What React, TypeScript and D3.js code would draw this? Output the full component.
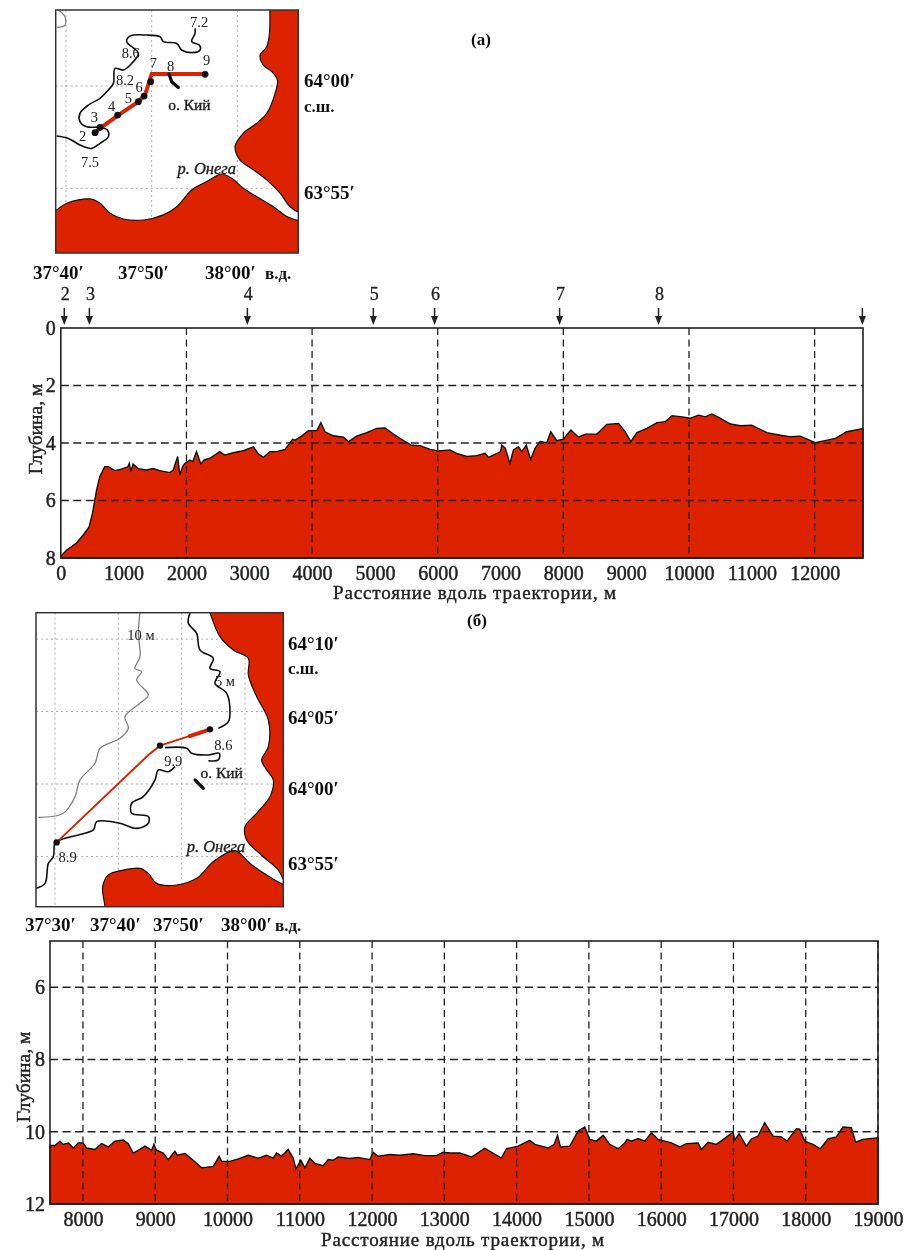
import React, { useEffect, useRef } from 'react'
import * as d3 from 'd3'

// distance along track (m), depth (m)
const profileA: [number, number][] = [
  [0, 7.94], [90, 7.73], [250, 7.48], [360, 7.19], [450, 6.92], [505, 6.44], [570, 5.63], [620, 5.17], [700, 4.82], [755, 4.82],
  [860, 4.96], [965, 4.91], [1070, 4.82], [1090, 4.71], [1115, 4.99], [1150, 4.73], [1230, 4.89], [1365, 4.94], [1470, 4.89], [1575, 4.96],
  [1735, 5.03], [1790, 4.94], [1860, 4.47], [1895, 5.11], [1940, 4.82], [1975, 4.71], [2055, 4.59], [2100, 4.65], [2160, 4.3], [2230, 4.74],
  [2280, 4.59], [2375, 4.53], [2530, 4.3], [2610, 4.42], [2745, 4.34], [2905, 4.27], [3065, 4.13], [3145, 4.38], [3225, 4.5], [3330, 4.3],
  [3435, 4.3], [3570, 4.22], [3690, 3.87], [3730, 3.9], [3835, 3.76], [3940, 3.57], [4075, 3.57], [4140, 3.29], [4205, 3.61], [4340, 3.75],
  [4500, 3.8], [4580, 3.95], [4710, 3.76], [4870, 3.64], [5030, 3.49], [5160, 3.48], [5295, 3.69], [5455, 3.92], [5585, 4.08], [5720, 4.09],
  [5880, 4.22], [6010, 4.28], [6195, 4.24], [6300, 4.36], [6465, 4.47], [6620, 4.44], [6755, 4.36], [6810, 4.5], [7000, 4.3], [7020, 4.07],
  [7075, 4.18], [7150, 4.71], [7205, 4.24], [7285, 4.13], [7340, 4.3], [7410, 4.07], [7480, 4.57], [7550, 4.18], [7630, 3.95], [7735, 3.99],
  [7800, 3.61], [7895, 3.92], [8000, 3.87], [8120, 3.55], [8240, 3.8], [8350, 3.69], [8535, 3.69], [8690, 3.35], [8880, 3.32], [8985, 3.61],
  [9075, 3.95], [9170, 3.64], [9330, 3.49], [9490, 3.29], [9620, 3.26], [9730, 3.05], [9890, 3.09], [10020, 3.14], [10155, 3.03], [10260, 3.09],
  [10365, 2.99], [10500, 3.14], [10660, 3.34], [10820, 3.4], [11000, 3.38], [11240, 3.64], [11455, 3.73], [11610, 3.78], [11770, 3.76], [12010, 3.99],
  [12200, 3.9], [12330, 3.84], [12510, 3.61], [12770, 3.5],
]

const profileB: [number, number][] = [
  [7544, 10.38], [7613, 10.38], [7682, 10.26], [7728, 10.35], [7797, 10.31], [7866, 10.45], [7935, 10.31], [8000, 10.31], [8050, 10.45], [8166, 10.49],
  [8258, 10.33], [8350, 10.42], [8443, 10.26], [8558, 10.23], [8627, 10.33], [8696, 10.59], [8788, 10.49], [8857, 10.4], [8950, 10.51], [8982, 10.35],
  [9019, 10.51], [9111, 10.59], [9180, 10.77], [9272, 10.54], [9305, 10.65], [9411, 10.6], [9526, 10.79], [9641, 11.0], [9803, 10.96], [9885, 10.68],
  [9918, 10.82], [10033, 10.82], [10148, 10.75], [10287, 10.65], [10425, 10.73], [10540, 10.65], [10632, 10.73], [10678, 10.59], [10748, 10.68], [10840, 10.49],
  [10909, 10.73], [10946, 11.03], [11015, 10.79], [11070, 11.0], [11139, 10.73], [11209, 10.88], [11324, 10.94], [11393, 10.77], [11462, 10.79], [11531, 10.7],
  [11693, 10.74], [11808, 10.71], [11969, 10.77], [12015, 10.57], [12084, 10.68], [12246, 10.63], [12384, 10.65], [12568, 10.61], [12730, 10.66], [12891, 10.66],
  [12983, 10.57], [13076, 10.59], [13214, 10.59], [13376, 10.7], [13560, 10.46], [13790, 10.73], [13860, 10.47], [14021, 10.4], [14182, 10.24], [14252, 10.35],
  [14436, 10.45], [14519, 10.35], [14565, 10.1], [14607, 10.42], [14736, 10.4], [14851, 9.98], [14943, 9.87], [15012, 10.21], [15104, 10.26], [15197, 10.1],
  [15289, 10.35], [15404, 10.47], [15496, 10.31], [15529, 10.21], [15588, 10.26], [15680, 10.19], [15773, 10.26], [15865, 10.03], [15957, 10.21], [16142, 10.31],
  [16257, 10.42], [16349, 10.33], [16510, 10.31], [16557, 10.49], [16649, 10.29], [16764, 10.35], [16995, 10.01], [17018, 10.23], [17078, 10.05], [17179, 10.4],
  [17248, 10.2], [17340, 10.12], [17432, 9.75], [17548, 10.12], [17663, 10.14], [17741, 10.26], [17870, 9.92], [17917, 9.93], [17986, 10.26], [18101, 10.35],
  [18202, 10.47], [18308, 10.2], [18424, 10.14], [18516, 9.87], [18631, 9.89], [18691, 10.29], [18792, 10.21], [19000, 10.17],
]

const stationDistances: [string, number][] = [
  ['2', 55], ['3', 455], ['4', 2970], ['5', 4975], ['6', 5950], ['7', 7940], ['8', 9515], ['', 12760],
]

const ticksA = [0, 1000, 2000, 3000, 4000, 5000, 6000, 7000, 8000, 9000, 10000, 11000, 12000]
const gridXA = [2000, 4000, 6000, 8000, 10000, 12000]
const depthsA = [0, 2, 4, 6, 8]
const ticksB = [8000, 9000, 10000, 11000, 12000, 13000, 14000, 15000, 16000, 17000, 18000, 19000]
const depthsB = [6, 8, 10, 12]

// maps: longitude minutes past 37 deg, latitude minutes past 63 deg
const eastLandA: [number, number][] = [
  [63.74, 64.6], [63.74, 62.57], [63.42, 61.92], [62.65, 61.51], [63.03, 61.02], [64.01, 60.7], [64.67, 60.29], [64.4, 59.64], [63.42, 58.66], [62.26, 58.18],
  [60.7, 57.69], [59.73, 57.04], [60.31, 56.38], [61.87, 55.9], [63.42, 55.41], [64.98, 54.76], [66.15, 54.1], [67.4, 53.8], [68, 53.8], [68, 64.6],
]
const southLandA: [number, number][] = [
  [38, 53.7], [38.79, 53.91], [40.08, 54.27], [42.8, 54.48], [43.97, 54.27], [45.14, 53.78], [46.69, 53.5], [49.03, 53.45], [51.36, 53.7], [52.92, 54.1],
  [54.67, 54.92], [56.42, 55.33], [58.17, 55.7], [59.34, 55.49], [60.7, 55.0], [62.26, 54.59], [64.2, 54.1], [65.76, 53.62], [67.4, 53.38], [68, 53.3], [68, 51], [38, 51],
]
const isobathA: [number, number][] = [
  [38.91, 57.56], [40.27, 57.44], [41.63, 57.12], [43.0, 56.95], [43.97, 57.2], [44.94, 57.52], [44.82, 57.85], [43.97, 57.98], [42.41, 58.01], [41.63, 58.26],
  [41.63, 58.66], [42.61, 59.07], [43.97, 59.4], [44.94, 59.8], [45.53, 60.13], [45.72, 60.86], [46.69, 60.78], [47.67, 61.11], [48.44, 61.6], [47.08, 62.17],
  [47.47, 62.44], [49.42, 62.49], [50.97, 62.41], [51.36, 62.17], [52.92, 62.08], [53.5, 61.76], [54.67, 61.63], [55.64, 61.76], [55.56, 62.0], [54.67, 62.17],
  [55.06, 62.57], [55.06, 62.82],
]
const cornerLineA: [number, number][] = [[39.1, 63.71], [39.88, 63.39], [39.88, 62.98], [38.91, 62.87]]
const trackA: [number, number][] = [[43.39, 57.72], [43.97, 57.93], [46.11, 58.58], [48.44, 59.23], [49.22, 59.56], [50.0, 60.59], [56.23, 60.59]]
const dotsA: [number, number][] = [[43.39, 57.72], [43.97, 57.98], [46.03, 58.58], [48.44, 59.23], [49.11, 59.51], [49.88, 60.21], [56.23, 60.57]]
const islandA: [number, number][] = [[52.02, 60.59], [52.33, 60.21], [53.11, 59.93]]
const labelsA: [string, number, number][] = [
  ['7.2', 55.53, 63.14], ['8.6', 47.55, 61.6], ['7', 50.19, 61.11], ['8', 52.22, 60.98], ['9', 56.42, 61.27], ['8.2', 46.89, 60.29],
  ['6', 48.52, 59.93], ['5', 47.28, 59.4], ['4', 45.33, 59.02], ['3', 43.31, 58.47], ['2', 41.95, 57.56], ['7.5', 42.8, 56.3],
]

const eastLandB: [number, number][] = [
  [54.0, 72.6], [54.47, 71.82], [56.05, 70.17], [58.16, 69.25], [60.53, 68.67], [60.53, 67.52], [61.84, 66.03], [63.68, 64.42], [63.68, 62.58], [62.63, 61.66],
  [63.42, 60.97], [64.47, 60.28], [63.95, 59.13], [61.84, 57.98], [60.0, 57.06], [60.26, 56.14], [62.89, 54.98], [65.26, 54.06], [66.4, 53.2], [67, 53.2], [67, 72.6],
]
const southLandB: [number, number][] = [
  [37.89, 51.0], [37.89, 51.53], [37.53, 52.91], [38.42, 53.72], [40.79, 54.06], [43.42, 54.18], [44.74, 53.83], [46.05, 53.14], [49.21, 53.03], [52.37, 53.49],
  [55.0, 54.64], [58.42, 55.4], [60.79, 54.52], [63.42, 53.72], [66.4, 53.0], [67, 53.0], [67, 51],
]
const isobathB: [number, number][][] = [
  [[51.32, 71.82], [51.05, 71.09], [52.37, 70.4], [52.89, 69.25], [55.0, 68.67], [54.47, 67.98], [56.05, 67.75], [55.26, 66.95], [57.11, 66.26], [57.63, 64.88], [57.37, 64.3], [55.79, 63.84]],
  [[47.37, 62.51], [50.79, 62.46], [51.58, 62.12], [54.21, 62.0], [55.95, 62.12], [55.79, 61.66], [54.21, 61.61]],
  [[48.95, 61.2], [47.89, 60.85], [46.32, 60.97], [45.79, 60.28], [43.95, 59.13], [42.11, 58.67], [42.11, 57.98], [44.74, 57.75], [44.74, 57.29], [42.89, 56.94],
    [40.26, 57.29], [36.58, 57.4], [36.05, 56.83], [33.68, 56.48], [31.05, 56.18], [30.0, 55.91], [29.74, 54.98], [28.95, 54.52], [28.42, 53.14], [27.0, 52.8]],
]
const isobath10B: [number, number][] = [
  [43.42, 71.82], [43.16, 70.4], [43.42, 68.79], [42.63, 67.98], [43.68, 67.75], [42.89, 67.18], [44.74, 66.14], [43.42, 65.57], [41.05, 64.65], [41.58, 63.84],
  [40.26, 63.15], [37.11, 62.46], [36.32, 61.43], [33.95, 60.28], [33.16, 59.13], [31.32, 57.98], [27.37, 57.7],
]
const trackB: [number, number][] = [[30.26, 55.97], [44.74, 62.0], [46.58, 62.65], [54.47, 63.77]]
const trackThickB: [number, number][] = [[51.05, 63.27], [54.47, 63.77]]
const dotsB: [number, number][] = [[30.26, 55.97], [46.58, 62.65], [54.47, 63.77]]
const islandB: [number, number][] = [[52.11, 60.28], [53.42, 59.7]]
const labelsB: [string, number, number][] = [
  ['10 м', 43.58, 70.28], ['5 м', 56.84, 67.11], ['8.6', 56.58, 62.69], ['9.9', 48.68, 61.59], ['8.9', 32.0, 54.98],
]

const RED = '#dd2400'
const INK = '#222'
const FONT = '"Liberation Serif", serif'

function drawProfile(root, cfg) {
  const { data, x, y, gridX, ticks, depths, titleY, axisLabelX, axisLabelY, tickLabelY } = cfg
  const g = root.append('g')
  const [x0, x1] = x.range()
  const [y0, y1] = y.range()

  g.append('path')
    .attr('fill', RED)
    .attr('stroke', '#111')
    .attr('stroke-width', 1.4)
    .attr('d', d3.area().x(d => x(d[0])).y0(y1).y1(d => y(d[1]))(data))

  g.selectAll('.vgrid')
    .data(gridX)
    .join('line')
    .attr('x1', d => x(d))
    .attr('x2', d => x(d))
    .attr('y1', y0)
    .attr('y2', y1)
    .attr('stroke', INK)
    .attr('stroke-width', 1.3)
    .attr('stroke-dasharray', '7 4.5')

  g.selectAll('.hgrid')
    .data(depths.filter(d => y(d) > y0 && y(d) < y1))
    .join('line')
    .attr('x1', x0)
    .attr('x2', x1)
    .attr('y1', d => y(d))
    .attr('y2', d => y(d))
    .attr('stroke', INK)
    .attr('stroke-width', 1.3)
    .attr('stroke-dasharray', '8 4.5')

  g.append('rect')
    .attr('x', x0)
    .attr('y', y0)
    .attr('width', x1 - x0)
    .attr('height', y1 - y0)
    .attr('fill', 'none')
    .attr('stroke', INK)
    .attr('stroke-width', 1.6)

  const xAxis = g
    .append('g')
    .attr('transform', `translate(0,${y1})`)
    .call(d3.axisBottom(x).tickValues(ticks).tickSize(0).tickPadding(tickLabelY).tickFormat(d3.format('d')))
  xAxis.select('.domain').remove()
  xAxis.selectAll('text')
    .attr('font-family', FONT)
    .attr('font-size', 20)
    .attr('fill', INK)
    .attr('stroke', INK)
    .attr('stroke-width', 0.45)

  const yAxis = g
    .append('g')
    .attr('transform', `translate(${x0},0)`)
    .call(d3.axisLeft(y).tickValues(depths).tickSize(0).tickPadding(5))
  yAxis.select('.domain').remove()
  yAxis.selectAll('text')
    .attr('font-family', FONT)
    .attr('font-size', 20)
    .attr('fill', INK)
    .attr('stroke', INK)
    .attr('stroke-width', 0.45)

  g.append('text')
    .attr('transform', `translate(${axisLabelX},${axisLabelY}) rotate(-90)`)
    .attr('text-anchor', 'middle')
    .attr('dominant-baseline', 'central')
    .attr('font-family', FONT)
    .attr('font-size', 19.5)
    .attr('fill', INK)
    .attr('stroke', INK)
    .attr('stroke-width', 0.4)
    .text('Глубина, м')

  g.append('text')
    .attr('x', cfg.titleX)
    .attr('y', titleY)
    .attr('text-anchor', 'middle')
    .attr('font-family', FONT)
    .attr('font-size', 19)
    .attr('letter-spacing', 0.85)
    .attr('fill', INK)
    .attr('stroke', INK)
    .attr('stroke-width', 0.4)
    .text('Расстояние вдоль траектории, м')

  return g
}

function drawMap(root, cfg) {
  const { id, frame, lon, lat, gridLon, gridLat, lands, contours, gray, island, dots, labels } = cfg
  const g = root.append('g')
  g.append('clipPath')
    .attr('id', id)
    .append('rect')
    .attr('x', frame.x)
    .attr('y', frame.y)
    .attr('width', frame.w)
    .attr('height', frame.h)
  const body = g.append('g').attr('clip-path', `url(#${id})`)
  const smooth = d3.line().x(d => lon(d[0])).y(d => lat(d[1])).curve(d3.curveCatmullRom.alpha(0.5))
  const straight = d3.line().x(d => lon(d[0])).y(d => lat(d[1]))

  body.selectAll('.mer')
    .data(gridLon)
    .join('line')
    .attr('x1', d => lon(d))
    .attr('x2', d => lon(d))
    .attr('y1', frame.y)
    .attr('y2', frame.y + frame.h)
  body.selectAll('.par')
    .data(gridLat)
    .enter()
    .append('line')
    .attr('x1', frame.x)
    .attr('x2', frame.x + frame.w)
    .attr('y1', d => lat(d))
    .attr('y2', d => lat(d))
  body.selectAll('line').attr('stroke', '#aaa').attr('stroke-width', 1).attr('stroke-dasharray', '2 3')

  lands.forEach(l => {
    body.append('path').attr('d', smooth(l) + 'Z').attr('fill', RED).attr('stroke', '#111').attr('stroke-width', 1.2)
  })
  contours.forEach(c => {
    body.append('path').attr('d', smooth(c)).attr('fill', 'none').attr('stroke', '#111').attr('stroke-width', 1.6)
  })
  gray.forEach(c => {
    body.append('path').attr('d', smooth(c)).attr('fill', 'none').attr('stroke', '#808080').attr('stroke-width', 1.3)
  })
  cfg.tracks.forEach(t => {
    body.append('path').attr('d', straight(t.points)).attr('fill', 'none').attr('stroke', RED).attr('stroke-width', t.width)
  })
  body.append('path').attr('d', straight(island)).attr('fill', 'none').attr('stroke', '#111').attr('stroke-width', 3.2).attr('stroke-linecap', 'round')
  body.selectAll('circle')
    .data(dots)
    .join('circle')
    .attr('cx', d => lon(d[0]))
    .attr('cy', d => lat(d[1]))
    .attr('r', cfg.dotR)
    .attr('fill', '#111')

  g.selectAll('.lbl')
    .data(labels)
    .enter()
    .append('text')
    .attr('x', d => lon(d[1]))
    .attr('y', d => lat(d[2]))
    .attr('text-anchor', 'middle')
    .attr('dominant-baseline', 'central')
    .attr('font-family', FONT)
    .attr('font-size', 14.5)
    .attr('fill', INK)
    .text(d => d[0])

  const named = (t, x, y, size, style) =>
    g.append('text')
      .attr('x', x)
      .attr('y', y)
      .attr('text-anchor', 'middle')
      .attr('dominant-baseline', 'central')
      .attr('font-family', FONT)
      .attr('font-size', size)
      .attr('font-style', style)
      .attr('fill', INK)
      .attr('stroke', INK)
      .attr('stroke-width', 0.35)
      .text(t)
  named('о. Кий', lon(cfg.kiy[0]), lat(cfg.kiy[1]), 15.5, 'normal')
  named('р. Онега', lon(cfg.onega[0]), lat(cfg.onega[1]), 16.5, 'italic')

  g.append('rect')
    .attr('x', frame.x)
    .attr('y', frame.y)
    .attr('width', frame.w)
    .attr('height', frame.h)
    .attr('fill', 'none')
    .attr('stroke', '#333')
    .attr('stroke-width', 1.5)

  cfg.outer.forEach(o => {
    g.append('text')
      .attr('x', o.x)
      .attr('y', o.y)
      .attr('dominant-baseline', 'central')
      .attr('font-family', FONT)
      .attr('font-size', o.size || 19)
      .attr('font-weight', 700)
      .attr('fill', '#111')
      .text(o.t)
  })
}

export default function App() {
  const ref = useRef<SVGSVGElement>(null)

  useEffect(() => {
    const svg = d3.select(ref.current)
    svg.selectAll('*').remove()
    const blur = svg.append('filter').attr('id', 'scan').attr('x', 0).attr('y', 0).attr('width', 1).attr('height', 1)
    blur.append('feGaussianBlur').attr('stdDeviation', 0.65)
    const root = svg.append('g').attr('filter', 'url(#scan)')
    root.append('rect').attr('width', 906).attr('height', 1250).attr('fill', '#fff')

    // upper profile
    const xA = d3.scaleLinear().domain([0, 12770]).range([60.8, 863])
    const yA = d3.scaleLinear().domain([0, 8]).range([328, 558])
    drawProfile(root, {
      data: profileA, x: xA, y: yA, gridX: gridXA, ticks: ticksA, depths: depthsA,
      titleX: 475, titleY: 599, axisLabelX: 35, axisLabelY: 429, tickLabelY: 8,
    })
    const arrows = root.append('g')
    stationDistances.forEach(([name, dist]) => {
      const px = xA(dist)
      arrows.append('line').attr('x1', px).attr('x2', px).attr('y1', 308).attr('y2', 320).attr('stroke', INK).attr('stroke-width', 1.5)
      arrows.append('path')
        .attr('d', d3.line()([[px - 3.5, 316], [px + 3.5, 316], [px, 325]]) + 'Z')
        .attr('fill', INK)
      if (name) {
        arrows.append('text')
          .attr('x', px + 1)
          .attr('y', 294)
          .attr('text-anchor', 'middle')
          .attr('dominant-baseline', 'central')
          .attr('font-family', FONT)
          .attr('font-size', 18)
          .attr('fill', INK)
          .attr('stroke', INK)
          .attr('stroke-width', 0.3)
          .text(name)
      }
    })

    // lower profile
    const xB = d3.scaleLinear().domain([7544, 19000]).range([50, 878])
    const yB = d3.scaleLinear().domain([4.72, 12]).range([941, 1204])
    drawProfile(root, {
      data: profileB, x: xB, y: yB, gridX: ticksB, ticks: ticksB, depths: depthsB,
      titleX: 463, titleY: 1246, axisLabelX: 23, axisLabelY: 1077, tickLabelY: 8,
    })

    // upper map
    drawMap(root, {
      id: 'mapA',
      frame: { x: 55.7, y: 10, w: 242.6, h: 243 },
      lon: d3.scaleLinear().domain([40, 60]).range([66, 237.4]),
      lat: d3.scaleLinear().domain([60, 55]).range([86, 188.3]),
      gridLon: [40, 50, 60],
      gridLat: [55, 60],
      lands: [eastLandA, southLandA],
      contours: [isobathA],
      gray: [cornerLineA],
      tracks: [{ points: trackA, width: 4 }],
      island: islandA,
      dots: dotsA,
      dotR: 3.4,
      labels: labelsA,
      kiy: [54.4, 59.12],
      onega: [56.42, 55.98],
      outer: [
        { t: '64°00′', x: 304, y: 80 },
        { t: 'с.ш.', x: 304, y: 106, size: 17 },
        { t: '63°55′', x: 304, y: 192 },
        { t: '37°40′', x: 33, y: 272 },
        { t: '37°50′', x: 118, y: 272 },
        { t: '38°00′', x: 205, y: 272 },
        { t: 'в.д.', x: 265, y: 273, size: 17 },
      ],
    })

    // lower map
    drawMap(root, {
      id: 'mapB',
      frame: { x: 36, y: 612.7, w: 247.3, h: 294 },
      lon: d3.scaleLinear().domain([30, 60]).range([55, 245]),
      lat: d3.scaleLinear().domain([60, 55]).range([784, 856.45]),
      gridLon: [30, 40, 50, 60],
      gridLat: [55, 60, 65, 70],
      lands: [eastLandB, southLandB],
      contours: isobathB,
      gray: [isobath10B],
      tracks: [{ points: trackB, width: 2 }, { points: trackThickB, width: 4 }],
      island: islandB,
      dots: dotsB,
      dotR: 3.2,
      labels: labelsB,
      kiy: [56.32, 60.78],
      onega: [55.42, 55.72],
      outer: [
        { t: '64°10′', x: 288, y: 643 },
        { t: 'с.ш.', x: 288, y: 668, size: 17 },
        { t: '64°05′', x: 288, y: 717 },
        { t: '64°00′', x: 288, y: 788 },
        { t: '63°55′', x: 288, y: 863 },
        { t: '37°30′', x: 25, y: 924 },
        { t: '37°40′', x: 90, y: 924 },
        { t: '37°50′', x: 153, y: 924 },
        { t: '38°00′', x: 221, y: 924 },
        { t: 'в.д.', x: 275, y: 925, size: 17 },
      ],
    })

    const marks = [['(а)', 481, 39], ['(б)', 477, 620]]
    root.selectAll('.panel')
      .data(marks)
      .enter()
      .append('text')
      .attr('x', d => d[1])
      .attr('y', d => d[2])
      .attr('text-anchor', 'middle')
      .attr('dominant-baseline', 'central')
      .attr('font-family', FONT)
      .attr('font-size', 17)
      .attr('font-weight', 700)
      .attr('fill', '#111')
      .text(d => d[0])
  }, [])

  return <svg ref={ref} width={906} height={1250} style={{ position: 'absolute', left: 0, top: 0 }} />
}
